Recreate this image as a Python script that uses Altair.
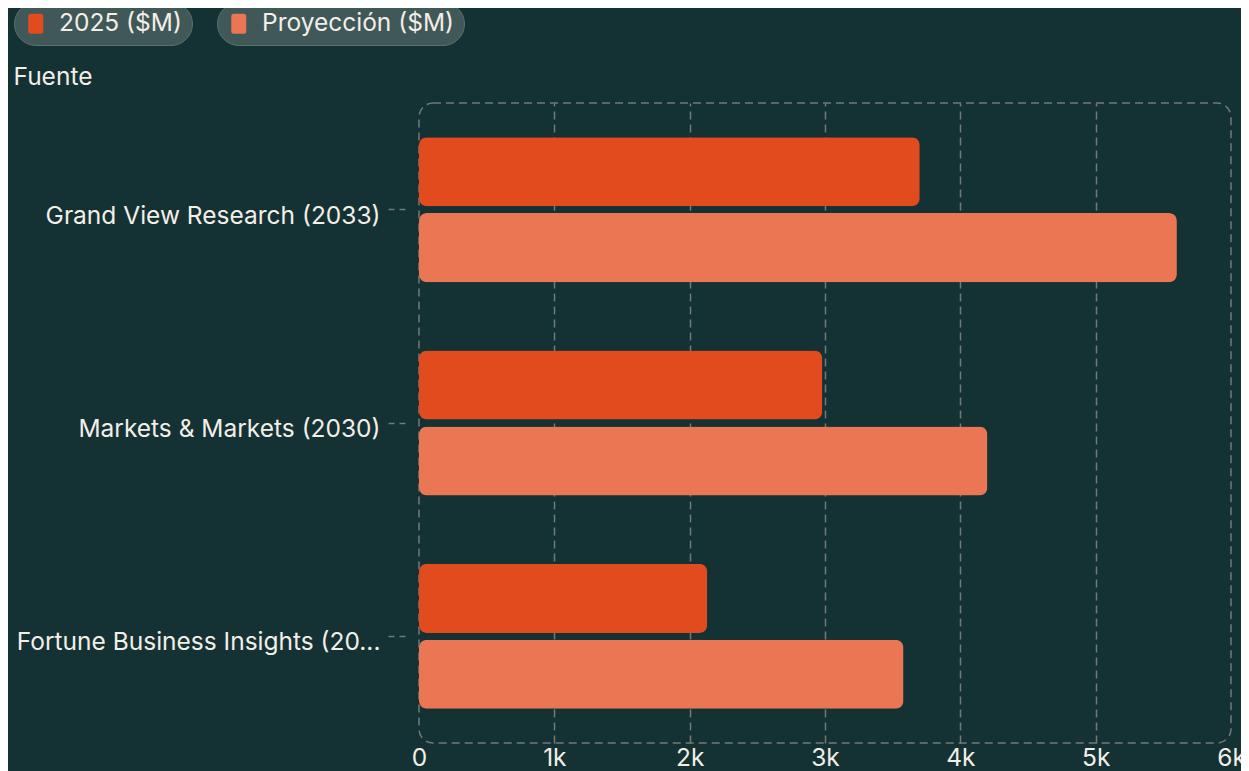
import altair as alt
import pandas as pd

fuentes = ["Grand View Research (2033)", "Markets & Markets (2030)", "Fortune Business Insights (2032)"]
series = ["2025 ($M)", "Proyección ($M)"]
valores_2025 = [3700, 2980, 2130]
valores_proy = [5600, 4200, 3580]
x_ticks = [0, 1000, 2000, 3000, 4000, 5000, 6000]
colores = ["#E24B1D", "#EB7653"]

rows = []
for f, a, b in zip(fuentes, valores_2025, valores_proy):
    rows.append({"fuente": f, "serie": series[0], "valor": a})
    rows.append({"fuente": f, "serie": series[1], "valor": b})
df = pd.DataFrame(rows)

BG = "#143233"
TXT = "#F3EEE7"
GRID = "#737878"
FONT = "Inter"
FS = 24.5
SYM = ("M-0.5,-1L0.5,-1Q0.75,-1 0.75,-0.75L0.75,0.75Q0.75,1 0.5,1"
       "L-0.5,1Q-0.75,1 -0.75,0.75L-0.75,-0.75Q-0.75,-1 -0.5,-1Z")

x_enc = alt.X(
    "valor:Q",
    scale=alt.Scale(domain=[0, 6000], nice=False),
    axis=alt.Axis(
        title=None, values=x_ticks,
        labelExpr="datum.value == 0 ? '0' : (datum.value / 1000) + 'k'",
        labelFontSize=FS, labelColor=TXT,
        labelFont=FONT, domain=False, ticks=False, grid=True, gridColor=GRID,
        gridDash=[8, 5], gridWidth=1.5, labelPadding=3, labelFlush=False,
        gridOpacity={"condition": {"test": "datum.value == 0 || datum.value == 6000", "value": 0}, "value": 1},
    ),
)
y_enc = alt.Y(
    "fuente:N",
    sort=fuentes,
    scale=alt.Scale(paddingInner=0.32, paddingOuter=0.16),
    axis=alt.Axis(
        title="Fuente", titleAngle=0, titleAlign="left", titleBaseline="middle",
        titleX=-392, titleY=-26, titleFontSize=FS, titleFontWeight="normal",
        titleColor=TXT, titleFont=FONT, labelFontSize=FS, labelColor=TXT, labelFont=FONT,
        labelLimit=420, labelPadding=7, labelOffset=7,
        labelExpr="length(datum.label) > 30 ? substring(datum.label, 0, 29) + '...' : datum.label",
        domain=False, ticks=True, tickSize=18, tickColor=GRID, tickDash=[6, 5],
        tickWidth=1.5, offset=14, grid=False,
    ),
)
yoff = alt.YOffset("serie:N", scale=alt.Scale(domain=series, paddingInner=0.09, paddingOuter=0))

base = alt.Chart(df)
layers = []
for i, s in enumerate(series):
    layers.append(
        base.transform_filter(alt.datum.serie == s)
        .mark_bar(cornerRadius=8)
        .encode(
            x=x_enc,
            y=y_enc,
            yOffset=yoff,
            color=alt.Color(
                "serie:N",
                scale=alt.Scale(domain=[s], range=[colores[i]]),
                legend=alt.Legend(title=None, orient="none", legendX=[-405, -202][i], legendY=-101),
            ),
        )
    )

chart = (
    alt.layer(*layers)
    .resolve_scale(color="independent")
    .properties(
        width=812, height=640, background=BG,
        padding={"left": 411, "top": 95, "right": 10, "bottom": 28},
        autosize=alt.AutoSizeParams(type="none"),
    )
    .configure(font=FONT)
    .configure_view(stroke=GRID, strokeDash=[8, 5], strokeWidth=1.5, cornerRadius=14)
    .configure_legend(
        fillColor="#405858", strokeColor="#5d7070", cornerRadius=22, padding=9.5,
        labelFontSize=FS, labelColor=TXT, labelFont=FONT, labelLimit=400,
        symbolType=SYM, symbolSize=400,
        symbolStrokeWidth=0, symbolOpacity=1, labelOffset=11,
    )
)

chart.save("out.html", embed_options={"renderer": "svg", "actions": False})
